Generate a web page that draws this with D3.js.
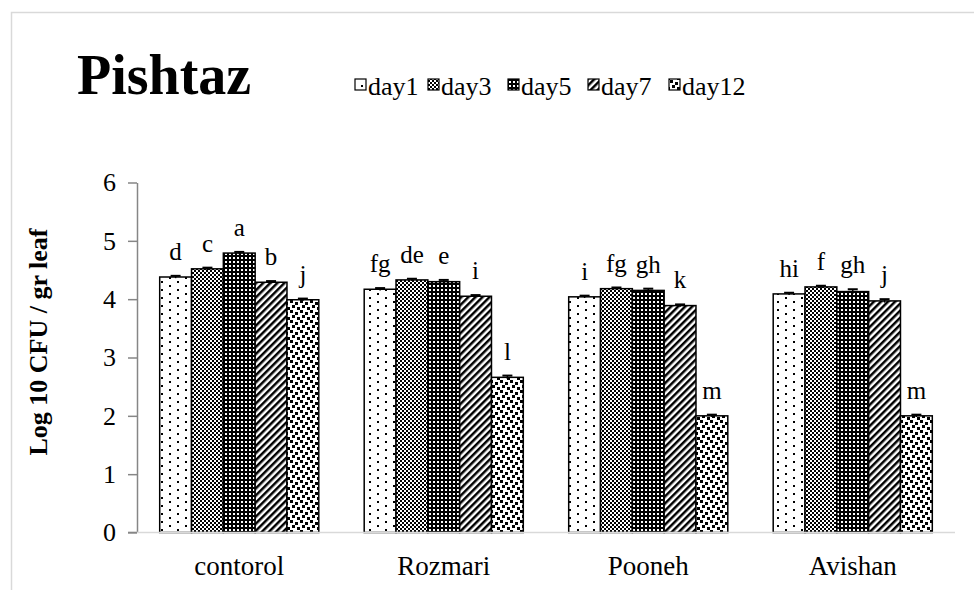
<!DOCTYPE html>
<meta charset="utf-8">
<script src="https://d3js.org/d3.v7.min.js"></script>
<style>
    body { margin: 0; background: #fff; }
    svg text { font-family: "Liberation Serif", "Times New Roman", serif; fill: #000; }
</style>
<div id="my_dataviz"></div>
<script>
    // data
    var groups = ["contorol", "Rozmari", "Pooneh", "Avishan"];
    var days = ["day1", "day3", "day5", "day7", "day12"];
    var day1 = [4.38, 4.17, 4.04, 4.09];
    var day3 = [4.52, 4.33, 4.18, 4.21];
    var day5 = [4.79, 4.30, 4.15, 4.13];
    var day7 = [4.29, 4.05, 3.89, 3.97];
    var day12 = [3.99, 2.66, 2.00, 2.00];
    var errors = [[0.02, 0.02, 0.02, 0.02],
                  [0.02, 0.02, 0.02, 0.02],
                  [0.02, 0.03, 0.03, 0.04],
                  [0.02, 0.02, 0.02, 0.03],
                  [0.02, 0.03, 0.02, 0.02]];
    var letters = [["d", "fg", "i", "hi"],
                   ["c", "de", "fg", "f"],
                   ["a", "e", "gh", "gh"],
                   ["b", "i", "k", "j"],
                   ["j", "l", "m", "m"]];
    var yTicks = [0, 1, 2, 3, 4, 5, 6];

    var series = [day1, day3, day5, day7, day12];

    var width = 974, height = 590;
    var plotLeft = 137, plotRight = 955, plotTop = 182.5, plotBottom = 532.5;

    var svg = d3.select("#my_dataviz")
        .append("svg")
        .attr("width", width)
        .attr("height", height);

    // patterns used for the bars
    var defs = svg.append("defs");

    function makePattern(id, w, h, bg, rects, transform) {
        var p = defs.append("pattern")
            .attr("id", id)
            .attr("patternUnits", "userSpaceOnUse")
            .attr("width", w)
            .attr("height", h);
        if (transform) p.attr("patternTransform", transform);
        p.append("rect").attr("width", w).attr("height", h).attr("fill", bg);
        rects.forEach(function (r) {
            p.append("rect")
                .attr("x", r[0]).attr("y", r[1])
                .attr("width", r[2]).attr("height", r[3])
                .attr("fill", r[4] || "#000");
        });
    }
    makePattern("p_day1", 16, 8, "#fff", [[1, 1, 2, 2], [9, 5, 2, 2]]);
    makePattern("p_day3", 4, 4, "#fff", [[0, 0, 2, 2], [2, 2, 2, 2]]);
    makePattern("p_day5", 4, 4, "#000", [[1, 1, 2, 2, "#fff"]]);
    makePattern("p_day7", 5, 5, "#fff", [[0, 0, 2.5, 5]], "rotate(45)");
    makePattern("p_day12", 10, 10, "#fff", [[0, 0, 3, 3], [5, 2, 3, 3], [2, 5, 3, 3], [7, 7, 3, 3]]);

    // outer chart frame
    svg.append("rect")
        .attr("x", 11.5)
        .attr("y", 12.5)
        .attr("width", 1000)
        .attr("height", 700)
        .attr("fill", "none")
        .attr("stroke", "#d9d9d9")
        .attr("stroke-width", 1.5);

    // scales
    var x0 = d3.scaleBand()
        .domain(groups)
        .range([plotLeft, plotRight])
        .paddingInner(0.222)
        .paddingOuter(0.111);
    var x1 = d3.scaleBand()
        .domain(days)
        .range([0, x0.bandwidth()]);
    var y = d3.scaleLinear()
        .domain([0, 6])
        .range([plotBottom, plotTop]);

    // y axis
    var yAxis = svg.append("g")
        .attr("transform", "translate(" + plotLeft + ",0)")
        .call(d3.axisLeft(y).tickValues(yTicks).tickFormat(d3.format("d"))
            .tickSize(9).tickPadding(12).tickSizeOuter(0));
    yAxis.select(".domain").attr("stroke", "#868686").attr("stroke-width", 1.5);
    yAxis.selectAll(".tick line").attr("stroke", "#868686").attr("stroke-width", 1.5);
    yAxis.selectAll(".tick text")
        .style("font-family", "'Liberation Serif', serif")
        .style("font-size", "26px")
        .attr("fill", "#000");

    // bars
    var bars = svg.append("g");
    series.forEach(function (vals, s) {
        bars.selectAll(".b" + s)
            .data(vals)
            .enter()
            .append("rect")
            .attr("x", function (d, i) { return x0(groups[i]) + x1(days[s]); })
            .attr("y", function (d) { return y(d); })
            .attr("width", x1.bandwidth())
            .attr("height", function (d) { return y(0) - y(d); })
            .attr("fill", "url(#p_" + days[s] + ")")
            .attr("stroke", "#000")
            .attr("stroke-width", 1.5);

        // error bars
        vals.forEach(function (d, i) {
            var cx = x0(groups[i]) + x1(days[s]) + x1.bandwidth() / 2;
            var e = errors[s][i];
            bars.append("line")
                .attr("x1", cx).attr("x2", cx)
                .attr("y1", y(d - e)).attr("y2", y(d + e))
                .attr("stroke", "#000").attr("stroke-width", 1.5);
            bars.append("line")
                .attr("x1", cx - 5).attr("x2", cx + 5)
                .attr("y1", y(d + e)).attr("y2", y(d + e))
                .attr("stroke", "#000").attr("stroke-width", 2);

            // significance letter
            bars.append("text")
                .attr("x", cx)
                .attr("y", y(d + e) - 16)
                .attr("text-anchor", "middle")
                .style("font-size", "25px")
                .text(letters[s][i]);
        });
    });

    // x axis
    svg.append("line")
        .attr("x1", plotLeft - 9).attr("x2", plotRight)
        .attr("y1", plotBottom).attr("y2", plotBottom)
        .attr("stroke", "#d9d9d9").attr("stroke-width", 1.5);
    svg.append("line")
        .attr("x1", plotLeft - 9).attr("x2", plotLeft)
        .attr("y1", plotBottom).attr("y2", plotBottom)
        .attr("stroke", "#868686").attr("stroke-width", 1.5);
    svg.selectAll(".xlab")
        .data(groups)
        .enter()
        .append("text")
        .attr("x", function (d) { return x0(d) + x0.bandwidth() / 2; })
        .attr("y", 575)
        .attr("text-anchor", "middle")
        .style("font-size", "27px")
        .text(function (d) { return d; });

    // y axis title
    svg.append("text")
        .attr("transform", "translate(47,342)rotate(-90)")
        .attr("text-anchor", "middle")
        .style("font-size", "26px")
        .style("font-weight", "bold")
        .text("Log 10 CFU / gr leaf");

    // chart title
    svg.append("text")
        .attr("x", 77)
        .attr("y", 94)
        .style("font-size", "56px")
        .style("font-weight", "bold")
        .text("Pishtaz");

    // legend
    var legend = svg.append("g");
    var legX = [368, 441, 521, 601, 682];
    days.forEach(function (d, i) {
        legend.append("rect")
            .attr("x", legX[i] - 13)
            .attr("y", 79)
            .attr("width", 11)
            .attr("height", 11)
            .attr("fill", "url(#p_" + d + ")")
            .attr("stroke", "#000")
            .attr("stroke-width", 1.2);
        legend.append("text")
            .attr("x", legX[i])
            .attr("y", 95)
            .style("font-size", "26px")
            .text(d);
    });
</script>
